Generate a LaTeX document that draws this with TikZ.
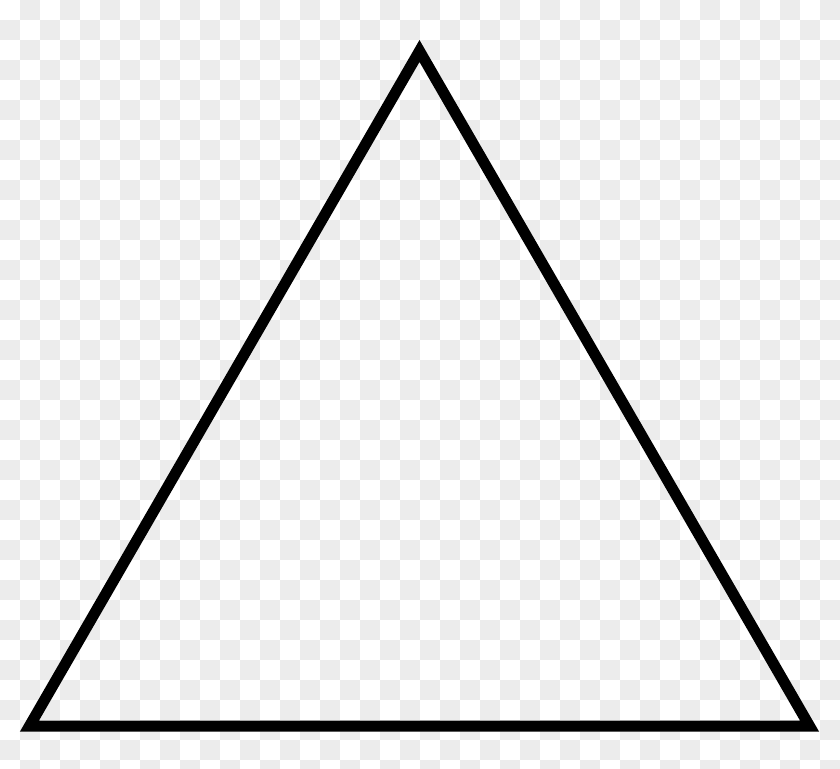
\documentclass[tikz,border=0pt]{standalone}
\usepackage{tikz}

\tikzset{
  tile/.style = {fill=gray!15, draw=none},
  side/.style = {draw=black, line width=11pt, miter limit=10, line join=miter}
}

\begin{document}
\begin{tikzpicture}[x=1pt, y=-1pt]

\useasboundingbox (0,0) rectangle (840,768);
\clip (0,0) rectangle (840,768);

\foreach \r in {0,...,38}{
  \foreach \c in {0,...,41}{
    \pgfmathtruncatemacro{\odd}{mod(\r+\c,2)}
    \ifnum\odd=1
      \fill[tile] (20*\c,20*\r) rectangle ++(20,20);
    \fi
  }
}

\coordinate (Top) at (419.5,51);
\coordinate (Left) at (29.5,726);
\coordinate (Right) at (809.5,726);

\draw[side] (Top) -- (Right) -- (Left) -- cycle;

\end{tikzpicture}
\end{document}
